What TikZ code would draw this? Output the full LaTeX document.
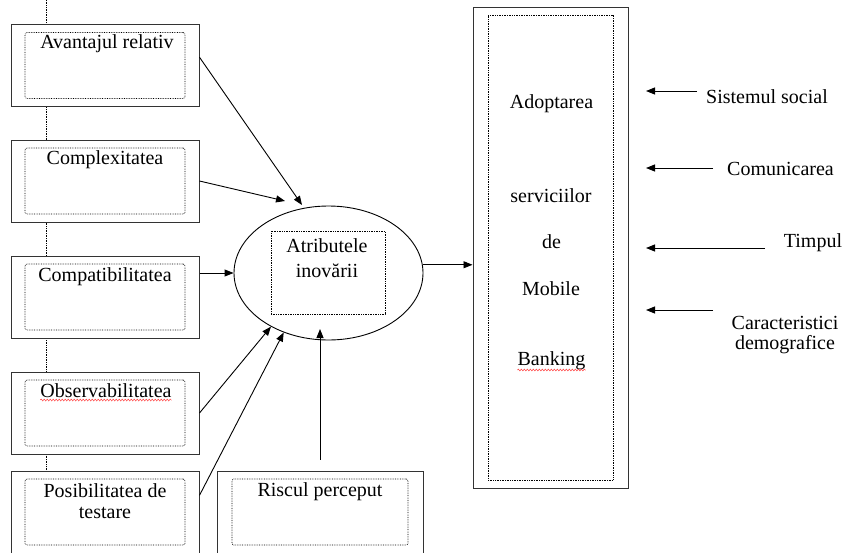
\documentclass[tikz,border=0pt]{standalone}
\usepackage{fontspec}
\setmainfont{Liberation Serif}
\usetikzlibrary{arrows.meta,shapes.geometric,calc,decorations.pathmorphing}

\begin{document}
\begin{tikzpicture}[x=1pt, y=-1pt,
  every node/.style={font=\fontsize{20}{22}\selectfont, inner sep=0pt},
  outbox/.style={draw=black!80, line width=1pt, fill=white, minimum width=188pt, minimum height=82pt},
  inbox/.style={draw, densely dotted, line width=0.7pt, rounded corners=2pt, minimum width=160pt, minimum height=66pt},
  arr/.style={-{Triangle[length=9pt,width=7pt]}, line width=0.9pt},
  squiggle/.style={red!75, line width=0.5pt, decorate, decoration={snake, amplitude=0.9pt, segment length=3pt}}]

\useasboundingbox (0,0) rectangle (843,552);
\clip (0,0) rectangle (843,552);

% dotted spine behind the left boxes
\draw [densely dotted, line width=0.7pt] (46,0) -- (46,471);

% left column
\node [outbox] (avantaj) at (105,65.5) {};
\node [inbox]  (avantajin) at (105,65.5) {};
\node [anchor=base] (avantajtxt) at (107,48) {Avantajul relativ};

\node [outbox] (complex) at (105,181) {};
\node [inbox]  (complexin) at (105,181) {};
\node [anchor=base] (complextxt) at (105,164) {Complexitatea};

\node [outbox] (compat) at (105,297) {};
\node [inbox]  (compatin) at (105,297) {};
\node [anchor=base] (compattxt) at (105,281) {Compatibilitatea};

\node [outbox] (observ) at (105,413) {};
\node [inbox]  (observin) at (105,413) {};
\node [anchor=base] (observtxt) at (106,397) {Observabilitatea};
\draw [squiggle] ($(observtxt.base west)+(0,3)$) -- ($(observtxt.base east)+(0,3)$);

\node [outbox] (posib) at (105,512) {};
\node [inbox]  (posibin) at (105,512) {};
\node [anchor=base, align=center, font=\fontsize{20}{21}\selectfont] (posibtxt) at (105,518) {Posibilitatea de\\testare};

% bottom box
\node [outbox, minimum width=206pt] (riscul) at (320,512) {};
\node [inbox, minimum width=176pt] (risculin) at (320,512) {};
\node [anchor=base] (riscultxt) at (320,496) {Riscul perceput};

% attributes
\node [draw, ellipse, line width=0.9pt, minimum width=189pt, minimum height=134pt] (attr) at (328.5,273) {};
\node [draw, densely dotted, line width=0.7pt, minimum width=114pt, minimum height=83pt] (attrin) at (328,272.5) {};
\node [anchor=base, align=center, font=\fontsize{20}{25}\selectfont] (attrtxt) at (327,277) {Atributele\\inovării};

% adoption box
\node [outbox, minimum width=155pt, minimum height=481pt] (adopt) at (550.5,247.5) {};
\node [inbox, sharp corners, minimum width=125pt, minimum height=465pt] (adoptin) at (550.5,247.5) {};
\node [anchor=base] (adopt1) at (551.5,108) {Adoptarea};
\node [anchor=base] (adopt2) at (551,202) {serviciilor};
\node [anchor=base] (adopt3) at (551.5,248) {de};
\node [anchor=base] (adopt4) at (551,295) {Mobile};
\node [anchor=base] (adopt5) at (551.5,365) {Banking};
\draw [squiggle] ($(adopt5.base west)+(0,5)$) -- ($(adopt5.base east)+(0,5)$);

% outside factors
\node [anchor=base] (social) at (767,103) {Sistemul social};
\node [anchor=base] (comunic) at (780.5,175) {Comunicarea};
\node [anchor=base] (timp) at (813,247) {Timpul};
\node [anchor=base, align=center, font=\fontsize{20}{19.5}\selectfont] (demogr) at (785,349) {Caracteristici\\demografice};

\coordinate (socialA) at (697,91);   \coordinate (socialB) at (646,91);
\coordinate (comunicA) at (713,168); \coordinate (comunicB) at (646,168);
\coordinate (timpA) at (765,248);    \coordinate (timpB) at (646,248);
\coordinate (demogrA) at (713,310);  \coordinate (demogrB) at (646,310);
\coordinate (avantajtip) at (302,205);
\coordinate (complextip) at (285,201);
\coordinate (risculTip) at (320,329);

\begin{scope}[arr]
\draw (avantaj.5) -- (avantajtip);
\draw (complex.east) -- (complextip);
\draw (compat.east |- attr.west) -- (attr.west);
\draw (observ.east) -- (attr.223);
\draw (posib.10) -- (attr.233);
\draw [shorten <=11pt] (riscul.north) -- (risculTip);
\draw (attr.5) -- (attr.5 -| adopt.west);
\draw (socialA) -- (socialB);
\draw (comunicA) -- (comunicB);
\draw (timpA) -- (timpB);
\draw (demogrA) -- (demogrB);
\end{scope}

\end{tikzpicture}
\end{document}
